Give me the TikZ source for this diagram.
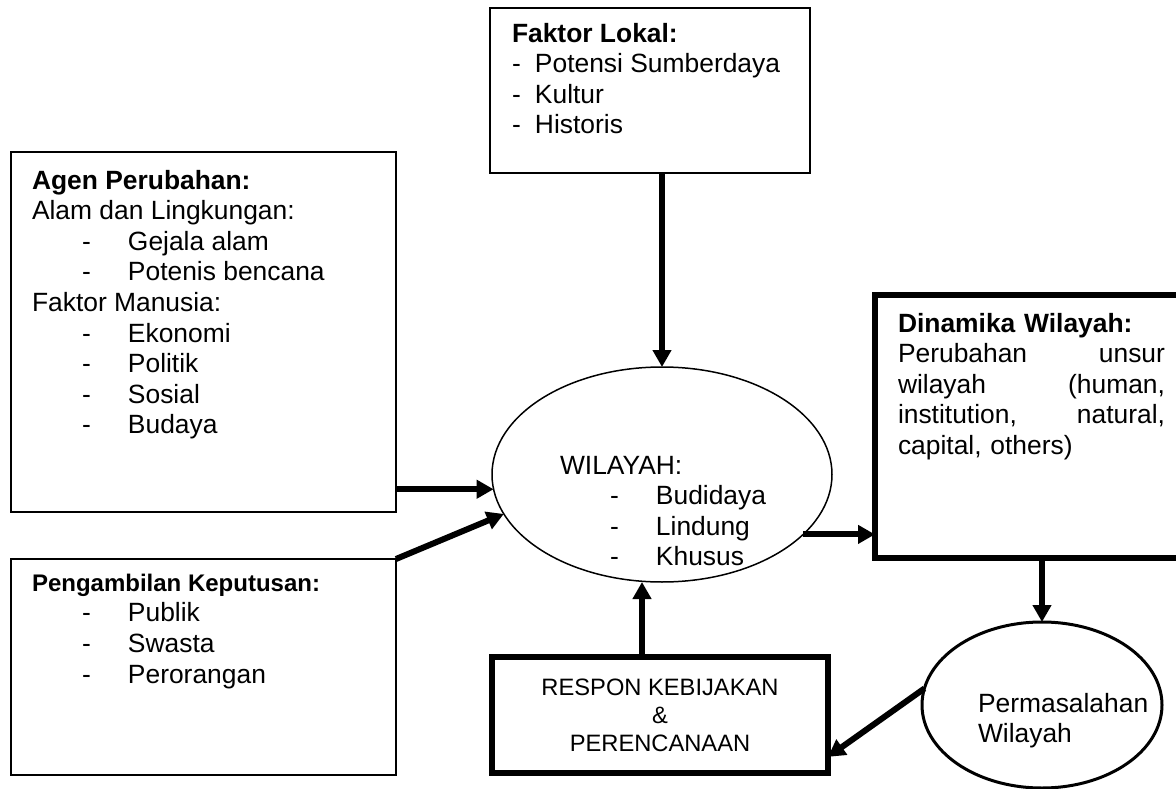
\documentclass[tikz,border=0pt]{standalone}
\usepackage{fontspec}
\setmainfont{Liberation Sans}
\usetikzlibrary{arrows.meta,shapes.geometric,positioning}

\newcommand{\dashitem}[1]{\hspace*{50pt}\makebox[46pt][l]{-}#1}
\newcommand{\shortitem}[1]{\makebox[23pt][l]{-}#1}

\begin{document}
\begin{tikzpicture}
  [
    x=1pt, y=-1pt,
    every node/.style={inner sep=0pt, outer sep=0pt},
    thinbox/.style={draw, rectangle, line width=1.8pt, anchor=north west},
    thickbox/.style={draw, rectangle, line width=5.5pt, anchor=north west},
    txt/.style={align=left, anchor=north west, font=\fontsize{26.4}{30.6}\selectfont},
    arr/.style={line width=6pt, -{Triangle[length=17pt,width=18pt]}}
  ]
  \useasboundingbox[fill=white] (0,0) rectangle (1176,789);

  % boxes
  \node[thinbox, minimum width=320pt, minimum height=165pt] (lokal) at (490,8) {};
  \node[thinbox, minimum width=385pt, minimum height=360pt] (agen) at (11,152) {};
  \node[thinbox, minimum width=385pt, minimum height=216pt] (keputusan) at (11,559) {};
  \node[thickbox, minimum width=315pt, minimum height=263pt] (dinamika) at (875,295) {};
  \node[thickbox, minimum width=336pt, minimum height=116pt, align=center,
    font=\fontsize{23.7}{28}\selectfont] (respon) at (492,657)
    {RESPON KEBIJAKAN\\\&\\PERENCANAAN};

  % ellipses
  \node[draw, ellipse, line width=1.5pt, minimum width=340pt, minimum height=215pt] (wilayah) at (662,474.5) {};
  \node[draw, ellipse, line width=3pt, minimum width=240pt, minimum height=166pt] (masalah) at (1042,705) {};

  % texts
  \node[txt] (lokaltxt) at (512,23)
    {\textbf{Faktor Lokal:}\\\shortitem{Potensi Sumberdaya}\\\shortitem{Kultur}\\\shortitem{Historis}};
  \node[txt] (agentxt) at (32,170)
    {\textbf{Agen Perubahan:}\\Alam dan Lingkungan:\\\dashitem{Gejala alam}\\\dashitem{Potenis bencana}\\
     Faktor Manusia:\\\dashitem{Ekonomi}\\\dashitem{Politik}\\\dashitem{Sosial}\\\dashitem{Budaya}};
  \node[txt] (keputusantxt) at (32,574)
    {{\fontsize{24}{30.6}\selectfont\bfseries Pengambilan Keputusan:}\\\dashitem{Publik}\\\dashitem{Swasta}\\\dashitem{Perorangan}};
  \node[txt] (wilayahtxt) at (560,456)
    {WILAYAH:\\\dashitem{Budidaya}\\\dashitem{Lindung}\\\dashitem{Khusus}};
  \node[txt, text width=267pt] (dinamikatxt) at (898,313)
    {\textbf{Dinamika Wilayah:}\\Perubahan\hfill unsur\\wilayah\hfill (human,\\institution,\hfill natural,\\capital, others)};
  \node[txt] (masalahtxt) at (978,693) {Permasalahan\\Wilayah};

  % arrows
  \draw[arr] (wilayah.north |- lokal.south) -- (wilayah.north);
  \draw[arr] (wilayah.185 -| agen.east) -- (wilayah.185);
  \draw[arr] (keputusan.north east) -- (wilayah.194);
  \draw[arr] (wilayah.-23) -- (wilayah.-23 -| dinamika.west);
  \draw[arr] (masalah.north |- dinamika.south) -- (masalah.north);
  \draw[arr] (masalah.172) -- (respon.-14);
  \coordinate (responup) at ([xshift=-18pt]respon.north);
  \draw[arr] (responup) -- (responup |- wilayah.south);
\end{tikzpicture}
\end{document}
